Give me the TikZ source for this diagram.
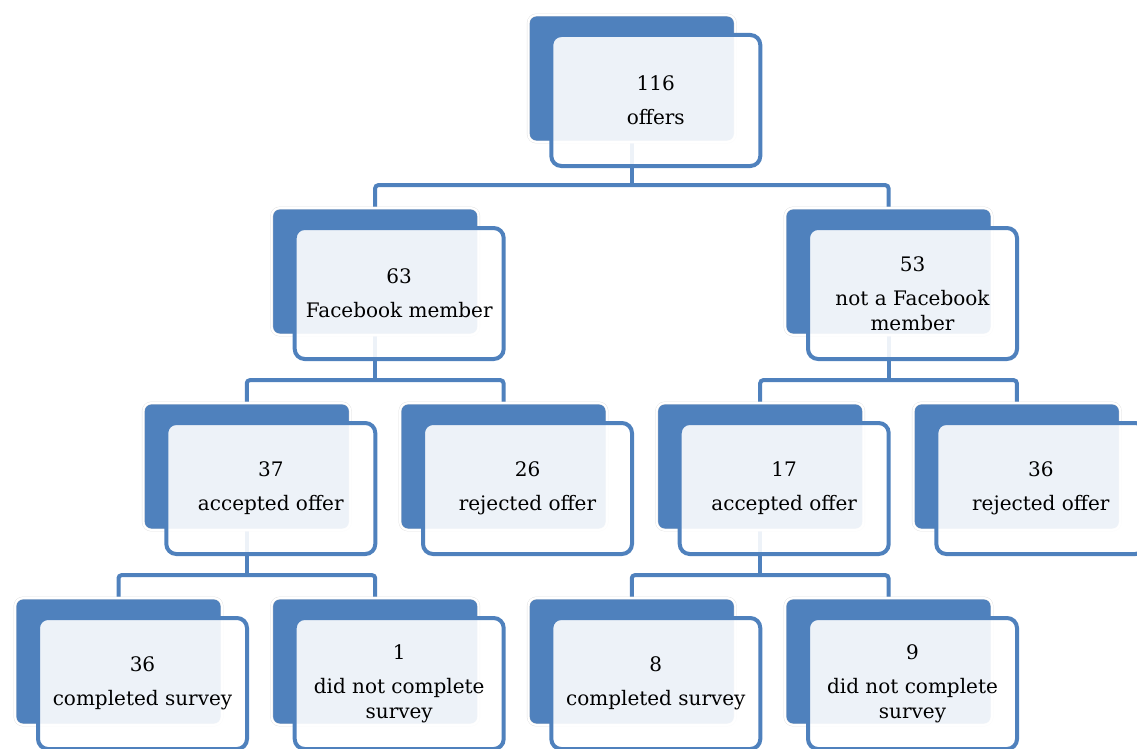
\documentclass[tikz,border=0pt]{standalone}
\usepackage{fontspec}
\setmainfont{DejaVu Serif}
\usetikzlibrary{positioning,backgrounds}
\definecolor{boxblue}{HTML}{4F81BD}
\tikzset{
  back/.style = {rectangle, rounded corners=8pt, fill=boxblue, draw=black!12, double=white, double distance=2pt, line width=0.4pt, minimum width=207pt, minimum height=127pt, inner sep=0pt},
  front/.style = {rectangle, rounded corners=10pt, draw=boxblue, line width=4pt, fill=white, fill opacity=0.9, text opacity=1, minimum width=209pt, minimum height=131pt, inner sep=0pt, align=center, xshift=24pt, yshift=-22pt, font=\fontsize{20}{25}\selectfont},
  link/.style = {draw=boxblue, line width=4pt, rounded corners=3pt},
}

\begin{document}
\begin{tikzpicture}[x=1pt, y=-1pt]
 \useasboundingbox (0,0) rectangle (1137,749);

 % back boxes
 \node[back] (b116) at (631.8,78.5) {};
 \node[back] (b63) at (375.2,271.5) {};
 \node[back] (b53) at (888.5,271.5) {};
 \node[back] (b37) at (246.8,466.5) {};
 \node[back] (b26) at (503.5,466.5) {};
 \node[back] (b17) at (760.2,466.5) {};
 \node[back] (b36r) at (1016.8,466.5) {};
 \node[back] (b36c) at (118.5,661.5) {};
 \node[back] (b1) at (375.2,661.5) {};
 \node[back] (b8) at (631.8,661.5) {};
 \node[back] (b9) at (888.5,661.5) {};

 % connectors
 \begin{scope}[on background layer]
  \draw[link] (b116.south) -- ++(0,43) coordinate (j116);
  \draw[link] (b63.north) |- (j116) -| (b53.north);
  \draw[link] (b63.south) -- ++(0,45) coordinate (j63);
  \draw[link] (b37.north) |- (j63) -| (b26.north);
  \draw[link] (b53.south) -- ++(0,45) coordinate (j53);
  \draw[link] (b17.north) |- (j53) -| (b36r.north);
  \draw[link] (b37.south) -- ++(0,45) coordinate (j37);
  \draw[link] (b36c.north) |- (j37) -| (b1.north);
  \draw[link] (b17.south) -- ++(0,45) coordinate (j17);
  \draw[link] (b8.north) |- (j17) -| (b9.north);
 \end{scope}

 % front boxes
 \node[front] (f116) at (b116) {116\\[9pt]offers};
 \node[front] (f63) at (b63) {63\\[9pt]Facebook member};
 \node[front] (f53) at (b53) {53\\[9pt]not a Facebook\\member};
 \node[front] (f37) at (b37) {37\\[9pt]accepted offer};
 \node[front] (f26) at (b26) {26\\[9pt]rejected offer};
 \node[front] (f17) at (b17) {17\\[9pt]accepted offer};
 \node[front] (f36r) at (b36r) {36\\[9pt]rejected offer};
 \node[front] (f36c) at (b36c) {36\\[9pt]completed survey};
 \node[front] (f1) at (b1) {1\\[9pt]did not complete\\survey};
 \node[front] (f8) at (b8) {8\\[9pt]completed survey};
 \node[front] (f9) at (b9) {9\\[9pt]did not complete\\survey};

\end{tikzpicture}
\end{document}
